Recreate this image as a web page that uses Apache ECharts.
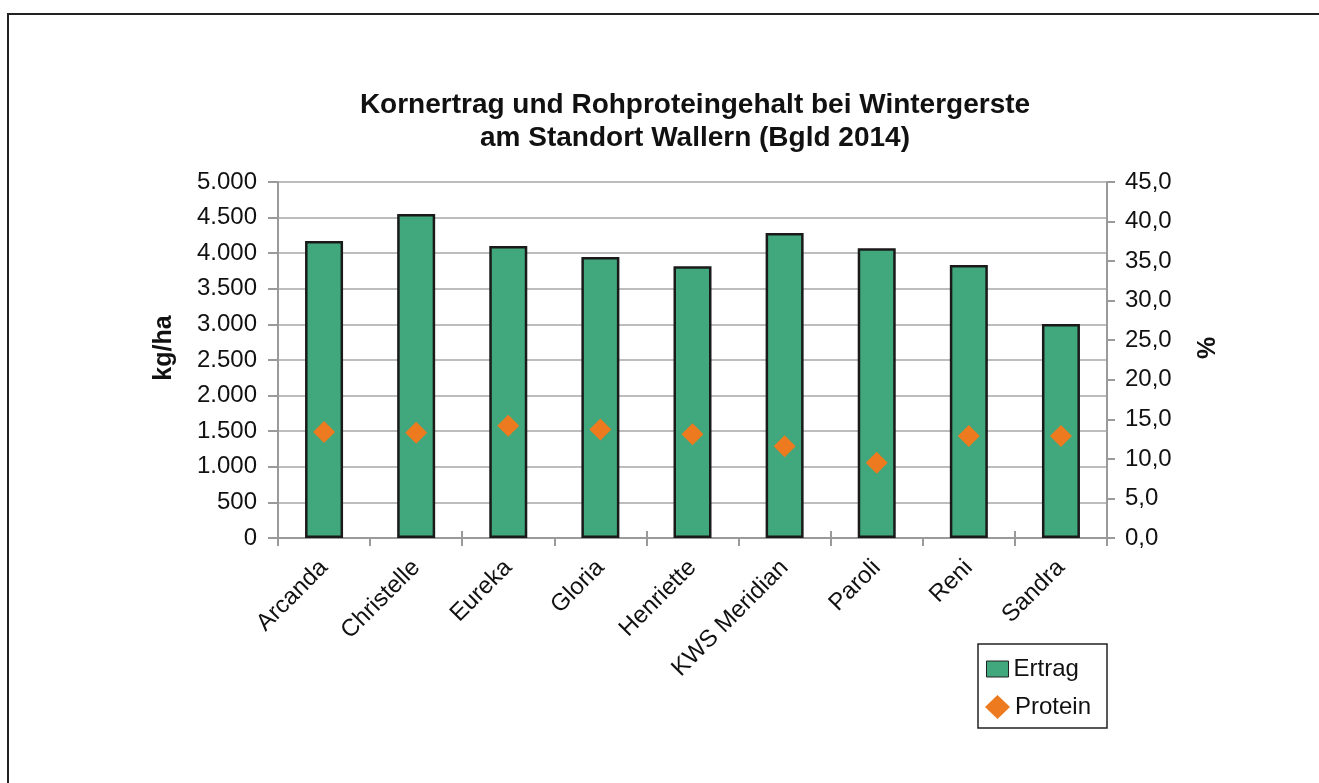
<!DOCTYPE html>
<html>
<head>
<meta charset="utf-8">
<script src="https://cdn.jsdelivr.net/npm/echarts@6/dist/echarts.min.js"></script>
<style>
html,body{margin:0;padding:0;background:#fff;}
#chart{width:1319px;height:783px;}
</style>
</head>
<body>
<div id="chart"></div>
<script>
const titleLines = ['Kornertrag und Rohproteingehalt bei Wintergerste', 'am Standort Wallern (Bgld 2014)'];
const categories = ['Arcanda', 'Christelle', 'Eureka', 'Gloria', 'Henriette', 'KWS Meridian', 'Paroli', 'Reni', 'Sandra'];
const ertrag = [4170, 4550, 4100, 3945, 3815, 4285, 4070, 3835, 3005];
const protein = [13.4, 13.3, 14.2, 13.7, 13.1, 11.6, 9.5, 12.9, 12.9];
const seriesNames = ['Ertrag', 'Protein'];
const leftAxisName = 'kg/ha';
const rightAxisName = '%';

const FONT = '"Liberation Sans", Arial, sans-serif';
const TXT = '#111';
const chart = echarts.init(document.getElementById('chart'));

const option = {
  backgroundColor: '#fff',
  animation: false,
  textStyle: { fontFamily: FONT, color: TXT },
  title: {
    text: titleLines.join('\n'),
    left: 690, textAlign: 'center', top: 84,
    textStyle: { fontFamily: FONT, fontSize: 28, fontWeight: 'bold', color: TXT, lineHeight: 33 }
  },
  graphic: [
    { type: 'rect', shape: { x: 8, y: 14, width: 1400, height: 900 }, style: { fill: 'none', stroke: '#222', lineWidth: 2 }, silent: true, z: 0 },
    { type: 'rect', shape: { x: 978, y: 644, width: 129, height: 84 }, style: { fill: '#fff', stroke: '#222', lineWidth: 1.5 }, silent: true, z: 1 },
    { type: 'text', x: 164, y: 348, rotation: Math.PI / 2, style: { text: leftAxisName, font: 'bold 25px ' + FONT, fill: TXT, textAlign: 'center', textVerticalAlign: 'middle' }, silent: true },
    { type: 'text', x: 1208, y: 348, rotation: Math.PI / 2, style: { text: rightAxisName, font: 'bold 25px ' + FONT, fill: TXT, textAlign: 'center', textVerticalAlign: 'middle' }, silent: true }
  ],
  legend: [
    { data: [{ name: seriesNames[0], icon: 'rect' }], left: 986, top: 657, padding: 0, itemWidth: 22, itemHeight: 16, z: 5,
      textStyle: { fontFamily: FONT, fontSize: 24, color: TXT }, itemStyle: { borderColor: '#222', borderWidth: 1 } },
    { data: [{ name: seriesNames[1], icon: 'diamond' }], left: 985, top: 695, padding: 0, itemWidth: 25, itemHeight: 24, z: 5,
      textStyle: { fontFamily: FONT, fontSize: 24, color: TXT }, itemStyle: { opacity: 1 } }
  ],
  grid: { left: 278, right: 212, top: 182, bottom: 245, containLabel: false },
  xAxis: [
    {
      type: 'category', data: categories,
      axisLine: { lineStyle: { color: '#9a9a9a', width: 2 } },
      axisTick: { show: true, length: 8, alignWithLabel: false, lineStyle: { color: '#9a9a9a', width: 2 } },
      axisLabel: { rotate: 45, margin: 26, fontSize: 24, fontFamily: FONT, color: TXT, interval: 0 }
    },
    {
      type: 'category', data: categories, position: 'bottom',
      axisLine: { show: false },
      axisTick: { show: true, inside: true, length: 7, lineStyle: { color: '#9a9a9a', width: 2 } },
      axisLabel: { show: false }
    }
  ],
  yAxis: [
    {
      type: 'value', min: 0, max: 5000, interval: 500, position: 'left',
      axisLine: { show: true, lineStyle: { color: '#9a9a9a', width: 2 } },
      axisTick: { show: true, length: 10, lineStyle: { color: '#9a9a9a', width: 2 } },
      splitLine: { show: true, lineStyle: { color: '#bdbdbd', width: 2 } },
      axisLabel: { margin: 21, fontSize: 24, fontFamily: FONT, color: TXT,
        formatter: v => String(v).replace(/\B(?=(\d{3})+(?!\d))/g, '.') }
    },
    {
      type: 'value', min: 0, max: 45, interval: 5, position: 'right',
      axisLine: { show: true, lineStyle: { color: '#9a9a9a', width: 2 } },
      axisTick: { show: true, length: 8, lineStyle: { color: '#9a9a9a', width: 2 } },
      splitLine: { show: false },
      axisLabel: { margin: 18, fontSize: 24, fontFamily: FONT, color: TXT,
        formatter: v => v.toFixed(1).replace('.', ',') }
    }
  ],
  series: [
    {
      name: seriesNames[0], type: 'bar', data: ertrag, yAxisIndex: 0, barWidth: 38,
      itemStyle: { color: '#40A87C', borderColor: '#1a1a1a', borderWidth: 2.5 }
    },
    {
      name: seriesNames[1], type: 'scatter', data: protein, yAxisIndex: 1,
      symbol: 'diamond', symbolSize: [22, 22], z: 4,
      itemStyle: { color: '#ED7A1E', opacity: 1 }
    }
  ]
};
chart.setOption(option);
</script>
</body>
</html>
